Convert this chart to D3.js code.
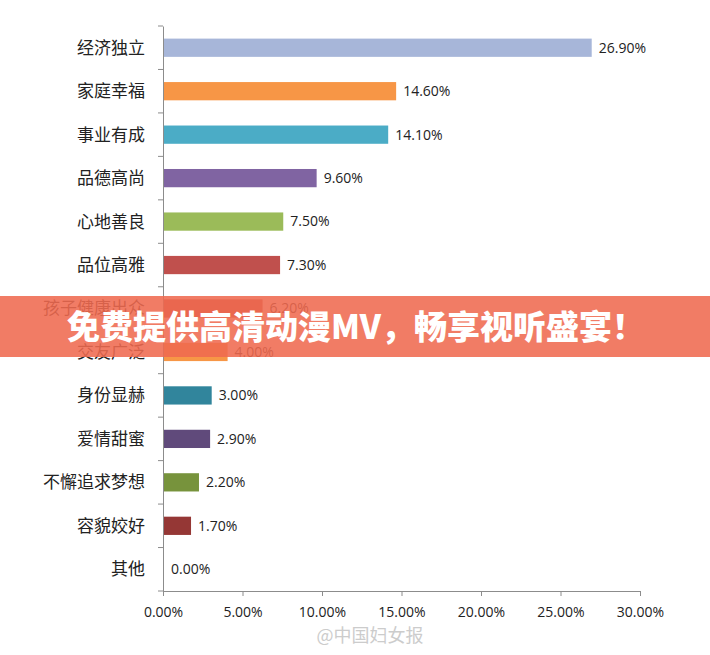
<!DOCTYPE html><html><head><meta charset="utf-8"><script src="https://cdn.jsdelivr.net/npm/d3@7"></script>
<style>body{margin:0;background:#fff}</style></head><body><svg id="c" width="710" height="655"></svg><script>
const categories=["经济独立","家庭幸福","事业有成","品德高尚","心地善良","品位高雅","孩子健康出众","交友广泛","身份显赫","爱情甜蜜","不懈追求梦想","容貌姣好","其他"];
const values=[26.9,14.6,14.1,9.6,7.5,7.3,6.2,4.0,3.0,2.9,2.2,1.7,0.0];
const colors=["#a7b6d9","#f79646","#4bacc6","#8064a2","#9bbb59","#c0504d","#c0504d","#f79646","#31859c","#604a7b","#77933c","#953735","#999"];
const ticks=[0,5,10,15,20,25,30];
const svg=d3.select("#c");
const x=d3.scaleLinear().domain([0,30]).range([163,640]);
const y=d3.scaleBand().domain(categories).range([26,591]).paddingInner(0.58).paddingOuter(0.29);
const f="'Open Sans','Noto Sans CJK SC',sans-serif";
svg.append("g").attr("transform","translate(0,591)").call(d3.axisBottom(x).tickValues(ticks).tickFormat(d=>d.toFixed(2)+"%").tickSize(5))
 .call(g=>{g.selectAll("line,path").attr("stroke","#8c8c8c");g.selectAll("text").attr("font-family",f).attr("font-size",14).attr("fill","#222").attr("dy","1.3em");});
const yb=d3.scaleBand().domain(categories).range([26,591]);
svg.append("g").attr("transform","translate(163,0)").call(d3.axisLeft(yb).tickValues([]).tickSize(0))
 .call(g=>g.select("path").attr("stroke","#8c8c8c"));
svg.append("g").selectAll("line").data(d3.range(categories.length+1)).join("line")
 .attr("x1",158).attr("x2",163).attr("y1",i=>26+i*yb.step()).attr("y2",i=>26+i*yb.step()).attr("stroke","#8c8c8c");
svg.append("g").selectAll("rect").data(values).join("rect").attr("x",x(0)+1).attr("y",(d,i)=>y(categories[i])).attr("height",y.bandwidth())
 .attr("width",d=>Math.max(0,x(d)-x(0))).attr("fill",(d,i)=>colors[i]);
svg.append("g").selectAll("text").data(values).join("text").attr("x",d=>x(d)+8).attr("y",(d,i)=>y(categories[i])+y.bandwidth()/2).attr("dy","0.35em")
 .attr("font-family",f).attr("font-size",14).attr("fill","#222").text(d=>d.toFixed(2)+"%");
svg.append("g").selectAll("text").data(categories).join("text").attr("x",145).attr("y",d=>yb(d)+yb.step()/2).attr("dy","0.35em").attr("text-anchor","end")
 .attr("font-family","'Noto Sans CJK SC',sans-serif").attr("font-size",17).attr("fill","#222").text(d=>d);
svg.append("text").attr("x",370).attr("y",642).attr("text-anchor","middle").attr("font-family","'Noto Sans CJK SC',sans-serif").attr("font-size",18).attr("fill","#ccc").text("@中国妇女报");
svg.append("rect").attr("x",0).attr("y",296).attr("width",710).attr("height",61).attr("fill","#ef6a50").attr("opacity",0.88);
svg.append("text").attr("x",356).attr("y",327).attr("dy","0.35em").attr("text-anchor","middle").attr("font-family","'Noto Sans CJK SC',sans-serif").attr("font-weight","900").attr("font-size",33).attr("fill","#fff").text("免费提供高清动漫MV，畅享视听盛宴！");
</script></body></html>
